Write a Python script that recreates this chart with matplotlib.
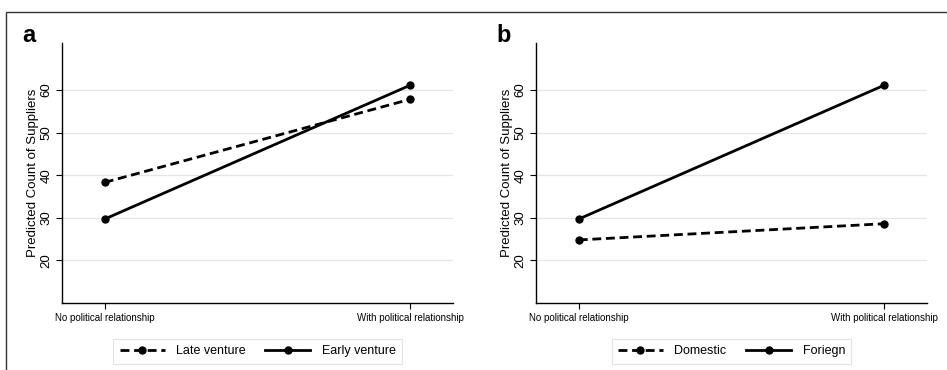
import matplotlib
matplotlib.use("Agg")
import matplotlib.pyplot as plt
from matplotlib.patches import Rectangle

plt.rcParams['font.family'] = ['Liberation Sans', 'DejaVu Sans']

categories = ["No political relationship", "With political relationship"]
late_venture = [38.3, 57.8]
early_venture = [29.7, 61.1]
domestic = [24.8, 28.6]
foreign = [29.7, 61.1]
yticks = [20, 30, 40, 50, 60]

W, H = 947, 370
fig = plt.figure(figsize=(W / 100, H / 100), dpi=100)

# outer frame
fig.patches.append(Rectangle((6 / W, -0.1), 1.2, (H - 12) / H + 0.1, transform=fig.transFigure,
                             fill=False, edgecolor='#333333', linewidth=1.0))

def panel(left_px, label, s1, s2, name1, name2):
    ax = fig.add_axes([left_px / W, 67 / H, 391 / W, 260 / H])
    x = [0, 1]
    ax.plot(x, s1, color='black', lw=2.0, ls=(0, (3.2, 1.7)), marker='o', ms=5, label=name1)
    ax.plot(x, s2, color='black', lw=2.0, ls='-', marker='o', ms=5, label=name2)
    ax.set_xlim(-0.14, 1.14)
    ax.set_ylim(10, 71)
    ax.set_yticks(yticks)
    ax.set_yticklabels([str(v) for v in yticks], rotation=90, va='center', fontsize=9.5)
    ax.set_xticks(x)
    ax.set_xticklabels(categories, fontsize=7)
    ax.tick_params(axis='both', length=4, width=0.8, colors='black', pad=3)
    ax.grid(axis='y', color='#e6e6e6', lw=0.9)
    ax.set_axisbelow(True)
    for s in ['top', 'right']:
        ax.spines[s].set_visible(False)
    for s in ['left', 'bottom']:
        ax.spines[s].set_linewidth(1.0)
    ax.set_ylabel("Predicted Count of Suppliers", fontsize=9.5, labelpad=1)
    leg = ax.legend(loc='upper center', bbox_to_anchor=(0.5, -0.115), ncol=2, frameon=True,
                    fontsize=9, handlelength=3.6, handletextpad=0.9, numpoints=1,
                    columnspacing=1.6, fancybox=False, borderpad=0.5, edgecolor='#dddddd')
    leg.get_frame().set_linewidth(0.8)
    fig.text((left_px - 40) / W, 1 - 47 / H, label, fontsize=17, fontweight='bold', va='bottom')
    return ax

panel(62, 'a', late_venture, early_venture, 'Late venture', 'Early venture')
panel(536, 'b', domestic, foreign, 'Domestic', 'Foriegn')

fig.savefig('out.png', dpi=100)
